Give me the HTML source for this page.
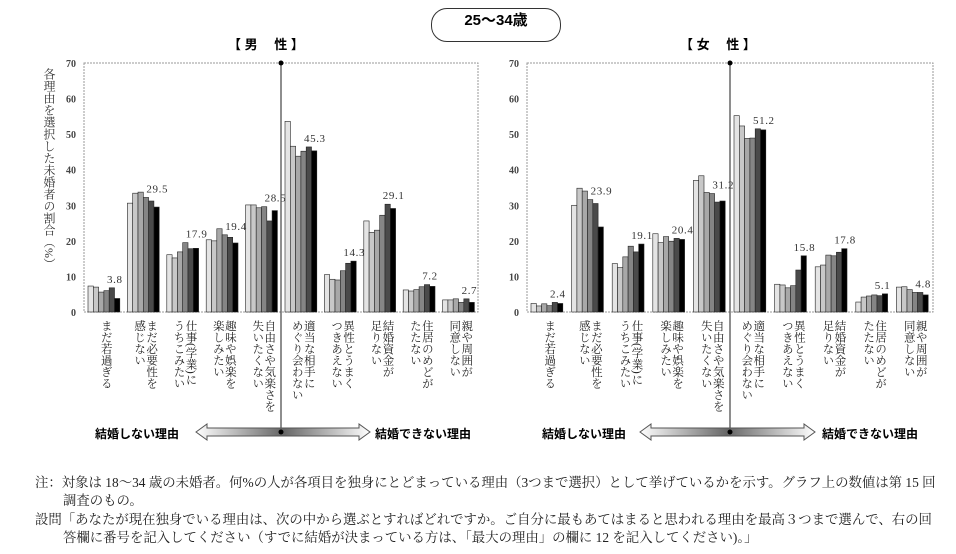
<!DOCTYPE html>
<html><head><meta charset="utf-8"><style>
body{margin:0;background:#fff;width:956px;height:554px;overflow:hidden;position:relative;font-family:"Liberation Serif","Noto Serif CJK SC","Noto Sans CJK JP",serif;}
.abs{position:absolute;}
.cat{position:absolute;top:320px;writing-mode:vertical-rl;font-size:11.5px;line-height:12px;color:#222;letter-spacing:0px;}
.note{position:absolute;font-size:13.4px;color:#222;white-space:nowrap;}
</style></head><body>
<svg id="s" width="956" height="554" style="position:absolute;left:0;top:0" xmlns="http://www.w3.org/2000/svg"></svg>
<div class="abs" style="left:431px;top:8px;width:128px;height:32px;border:1.5px solid #333;border-radius:16px;text-align:center;line-height:32px;font:bold 15px 'Liberation Sans','Noto Sans CJK JP',sans-serif;">25～34歳</div>
<div class="abs" style="left:228px;top:34px;font:bold 13px 'Liberation Sans','Noto Sans CJK JP',sans-serif;">【 男　 性 】</div>
<div class="abs" style="left:680px;top:34px;font:bold 13px 'Liberation Sans','Noto Sans CJK JP',sans-serif;">【 女　 性 】</div>
<div class="abs" style="left:42px;top:68px;writing-mode:vertical-rl;font-size:12px;line-height:13px;color:#333;">各理由を選択した未婚者の割合（%）</div>
<div id="cats"></div>
<div class="abs" style="left:95px;top:425px;font:bold 12px 'Liberation Sans','Noto Sans CJK JP',sans-serif;">結婚しない理由</div>
<div class="abs" style="left:375px;top:425px;font:bold 12px 'Liberation Sans','Noto Sans CJK JP',sans-serif;">結婚できない理由</div>
<div class="abs" style="left:542px;top:425px;font:bold 12px 'Liberation Sans','Noto Sans CJK JP',sans-serif;">結婚しない理由</div>
<div class="abs" style="left:822px;top:425px;font:bold 12px 'Liberation Sans','Noto Sans CJK JP',sans-serif;">結婚できない理由</div>
<div class="note" style="left:35px;top:472px;">注：対象は 18～34 歳の未婚者。何%の人が各項目を独身にとどまっている理由（3つまで選択）として挙げているかを示す。グラフ上の数値は第 15 回</div>
<div class="note" style="left:63px;top:490px;">調査のもの。</div>
<div class="note" style="left:35px;top:509px;">設問「あなたが現在独身でいる理由は、次の中から選ぶとすればどれですか。ご自分に最もあてはまると思われる理由を最高３つまで選んで、右の回</div>
<div class="note" style="left:63px;top:527px;">答欄に番号を記入してください（すでに結婚が決まっている方は、「最大の理由」の欄に 12 を記入してください)。」</div>
<script>
var ns="http://www.w3.org/2000/svg",s=document.getElementById('s');
function el(t,a,txt){var e=document.createElementNS(ns,t);for(var k in a)e.setAttribute(k,a[k]);if(txt!=null)e.textContent=txt;s.appendChild(e);return e;}
var cols=['#e4e4e4','#c8c8c8','#a8a8a8','#858585','#4a4a4a','#000'];
var labels=['まだ若過ぎる','まだ必要性を|感じない','仕事(学業)に|うちこみたい','趣味や娯楽を|楽しみたい','自由さや気楽さを|失いたくない','適当な相手に|めぐり会わない','異性とうまく|つきあえない','結婚資金が|足りない','住居のめどが|たたない','親や周囲が|同意しない'];
var M=[[7.3,7.0,5.6,6.0,6.8,3.8],[30.6,33.4,33.7,32.2,31.2,29.5],[16.1,15.2,16.9,19.5,17.8,17.9],[20.3,20.0,23.4,21.7,21.0,19.4],[30.1,30.1,29.3,29.6,25.6,28.5],[53.6,46.6,43.8,45.2,46.4,45.3],[10.5,9.2,9.0,11.6,13.7,14.3],[25.6,22.4,23.0,27.2,30.3,29.1],[6.2,5.9,6.3,7.1,7.7,7.2],[3.4,3.4,3.7,2.7,3.7,2.7]];
var F=[[2.4,1.7,2.3,1.8,2.7,2.4],[30.0,34.8,34.0,31.6,30.5,23.9],[13.6,12.5,15.5,18.5,16.9,19.1],[22.0,19.5,21.2,19.9,20.7,20.4],[37.0,38.3,33.6,33.3,30.9,31.2],[55.2,52.3,48.8,48.9,51.5,51.2],[7.8,7.6,6.8,7.4,11.8,15.8],[12.7,13.2,16.0,15.8,16.8,17.8],[2.8,4.2,4.5,4.8,4.6,5.1],[7.0,7.1,6.3,5.5,5.5,4.8]];
var cats=document.getElementById('cats');
function chart(x0,x1,D,arrL,arrR){
 var y0=312,y70=63,k=(y0-y70)/70,gw=(x1-x0)/10,div=x0+5*gw;
 el('rect',{x:x0,y:y70,width:x1-x0,height:y0-y70,fill:'none',stroke:'#999','stroke-width':1,'stroke-dasharray':'2,1'});
 for(var v=0;v<=70;v+=10){el('text',{x:x0-8,y:y0-v*k+4,'text-anchor':'end','font-size':10,'font-weight':'bold',fill:'#444','font-family':'Liberation Serif'},v);}
 var labs=[];
 for(var g=0;g<10;g++){var bx=x0+g*gw+4,bw=5.3;
  for(var i=0;i<6;i++){var h=D[g][i]*k;el('rect',{x:bx+i*bw,y:y0-h,width:bw,height:h,fill:cols[i],stroke:'#222','stroke-width':0.6});}
  var lv=D[g][5],mx=Math.max(D[g][3],D[g][4],D[g][5]);labs.push([bx+19,y0-mx*k-5,lv.toFixed(1)]);
  var p=labels[g].split('|'),d=document.createElement('div');d.className='cat';
  d.style.left=(x0+g*gw+gw/2-(p.length*12)/2+2)+'px';d.innerHTML=p.join('<br>');cats.appendChild(d);}
 labs.forEach(function(l){el('text',{x:l[0],y:l[1],'font-size':11,fill:'#333','font-family':'Liberation Serif','letter-spacing':'0.6'},l[2]);});
 el('line',{x1:div,y1:y70-2,x2:div,y2:432,stroke:'#444','stroke-width':1.2});
 el('circle',{cx:div,cy:y70,r:2.5,fill:'#000'});
 var ay=432,a=arrL,b=arrR;
 var gid='g'+x0;var lg=el('linearGradient',{id:gid,x1:0,x2:1,y1:0,y2:0});
 [['0','#fff'],['0.5','#666'],['1','#fff']].forEach(function(q){var st=document.createElementNS(ns,'stop');st.setAttribute('offset',q[0]);st.setAttribute('stop-color',q[1]);lg.appendChild(st);});
 el('path',{d:'M'+a+' '+ay+' L'+(a+11)+' '+(ay-8)+' L'+(a+11)+' '+(ay-4)+' L'+(b-11)+' '+(ay-4)+' L'+(b-11)+' '+(ay-8)+' L'+b+' '+ay+' L'+(b-11)+' '+(ay+8)+' L'+(b-11)+' '+(ay+4)+' L'+(a+11)+' '+(ay+4)+' L'+(a+11)+' '+(ay+8)+' Z',fill:'url(#'+gid+')',stroke:'#555','stroke-width':1});
 el('circle',{cx:div,cy:ay,r:2.5,fill:'#000'});
}
chart(84,478,M,196,370);
chart(527,933,F,640,815);
</script>
</body></html>
